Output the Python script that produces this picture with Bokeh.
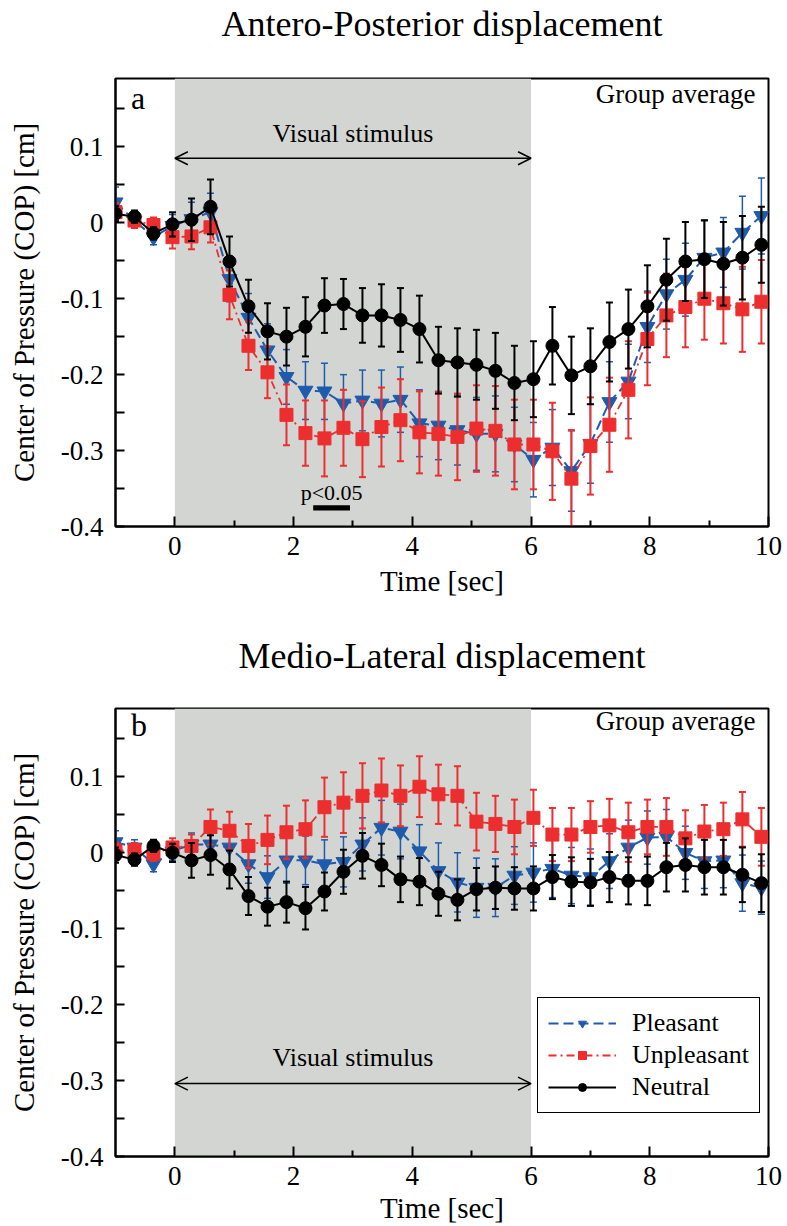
import numpy as np
from bokeh.plotting import figure
from bokeh.layouts import column
from bokeh.models import (Range1d, BoxAnnotation, Arrow, OpenHead, Label, Legend, LegendItem,
                          FixedTicker, CustomJSTickFormatter, LinearAxis)
from bokeh.embed import file_html
from bokeh.resources import INLINE

# ---------------- data ----------------
time_sec = [-1.0, -0.68, -0.36, -0.04, 0.28, 0.6, 0.92, 1.24, 1.56, 1.88, 2.2, 2.52, 2.84,
            3.16, 3.48, 3.8, 4.12, 4.44, 4.76, 5.08, 5.4, 5.72, 6.04, 6.36, 6.68, 7.0, 7.32,
            7.64, 7.96, 8.28, 8.6, 8.92, 9.24, 9.56, 9.88]

# Antero-Posterior
ap_pleasant = [0.027, 0.003, -0.019, -0.004, 0.005, 0.014, -0.074, -0.125, -0.168, -0.203, -0.221,
               -0.222, -0.238, -0.234, -0.238, -0.233, -0.264, -0.267, -0.273, -0.278, -0.278,
               -0.292, -0.312, -0.296, -0.327, -0.291, -0.236, -0.209, -0.137, -0.094, -0.075,
               -0.046, -0.039, -0.013, 0.009]
ap_pleasant_err = [0.020, 0.010, 0.010, 0.015, 0.022, 0.025, 0.030, 0.032, 0.035, 0.036, 0.038,
                   0.037, 0.038, 0.040, 0.044, 0.043, 0.044, 0.045, 0.046, 0.048, 0.050, 0.049,
                   0.049, 0.050, 0.053, 0.052, 0.053, 0.049, 0.047, 0.046, 0.048, 0.050, 0.046,
                   0.048, 0.050]
ap_unpleasant = [0.014, 0.003, -0.003, -0.019, -0.018, -0.006, -0.095, -0.162, -0.197, -0.253,
                 -0.277, -0.284, -0.270, -0.285, -0.269, -0.260, -0.276, -0.278, -0.282, -0.271,
                 -0.274, -0.292, -0.292, -0.301, -0.337, -0.294, -0.266, -0.220, -0.153, -0.122,
                 -0.111, -0.100, -0.106, -0.114, -0.104]
ap_unpleasant_err = [0.012, 0.010, 0.010, 0.015, 0.017, 0.020, 0.032, 0.032, 0.034, 0.040, 0.043,
                     0.050, 0.050, 0.050, 0.052, 0.054, 0.054, 0.055, 0.057, 0.057, 0.059, 0.059,
                     0.059, 0.064, 0.064, 0.064, 0.062, 0.064, 0.061, 0.055, 0.053, 0.054, 0.053,
                     0.056, 0.055]
ap_neutral = [0.012, 0.008, -0.014, -0.002, 0.004, 0.021, -0.051, -0.110, -0.143, -0.150, -0.137,
              -0.109, -0.107, -0.122, -0.122, -0.128, -0.140, -0.181, -0.184, -0.187, -0.195,
              -0.211, -0.206, -0.162, -0.201, -0.189, -0.157, -0.140, -0.110, -0.075, -0.051,
              -0.048, -0.054, -0.046, -0.029]
ap_neutral_err = [0.010, 0.008, 0.008, 0.016, 0.028, 0.036, 0.033, 0.035, 0.037, 0.038, 0.039,
                  0.036, 0.033, 0.036, 0.041, 0.042, 0.044, 0.044, 0.045, 0.046, 0.050, 0.049,
                  0.050, 0.051, 0.051, 0.050, 0.052, 0.052, 0.054, 0.054, 0.052, 0.051, 0.055,
                  0.055, 0.050]

# Medio-Lateral
ml_pleasant = [0.014, 0.007, -0.015, 0.002, 0.011, 0.011, 0.007, -0.015, -0.032, -0.010, -0.010,
               -0.015, -0.012, 0.011, 0.033, 0.028, 0.002, -0.024, -0.039, -0.046, -0.046, -0.030,
               -0.026, -0.021, -0.030, -0.032, -0.011, 0.007, 0.020, 0.021, 0.000, -0.011, -0.010,
               -0.040, -0.046]
ml_pleasant_err = [0.015, 0.010, 0.010, 0.012, 0.015, 0.020, 0.022, 0.025, 0.028, 0.030, 0.032,
                   0.032, 0.033, 0.035, 0.036, 0.036, 0.035, 0.037, 0.039, 0.039, 0.038, 0.038,
                   0.039, 0.038, 0.037, 0.037, 0.036, 0.036, 0.035, 0.036, 0.035, 0.036, 0.036,
                   0.037, 0.035]
ml_unpleasant = [0.003, 0.003, -0.001, 0.007, 0.009, 0.034, 0.029, 0.009, 0.017, 0.027, 0.031,
                 0.060, 0.066, 0.075, 0.082, 0.075, 0.087, 0.077, 0.075, 0.041, 0.038, 0.034,
                 0.046, 0.024, 0.024, 0.034, 0.036, 0.027, 0.034, 0.034, 0.019, 0.028, 0.031,
                 0.044, 0.021]
ml_unpleasant_err = [0.010, 0.010, 0.010, 0.012, 0.015, 0.023, 0.025, 0.029, 0.032, 0.035, 0.038,
                     0.039, 0.040, 0.043, 0.042, 0.040, 0.040, 0.039, 0.039, 0.038, 0.037, 0.036,
                     0.037, 0.035, 0.035, 0.034, 0.035, 0.039, 0.036, 0.038, 0.037, 0.035, 0.035,
                     0.036, 0.038]
ml_neutral = [-0.003, -0.009, 0.009, 0.000, -0.010, -0.003, -0.022, -0.057, -0.071, -0.065, -0.073,
              -0.051, -0.025, -0.004, -0.016, -0.035, -0.038, -0.054, -0.062, -0.048, -0.046,
              -0.047, -0.047, -0.032, -0.038, -0.039, -0.032, -0.037, -0.037, -0.019, -0.016,
              -0.019, -0.019, -0.029, -0.040]
ml_neutral_err = [0.010, 0.008, 0.008, 0.012, 0.023, 0.026, 0.025, 0.025, 0.025, 0.027, 0.028,
                  0.025, 0.029, 0.030, 0.028, 0.030, 0.031, 0.029, 0.027, 0.028, 0.028, 0.028,
                  0.029, 0.029, 0.032, 0.031, 0.033, 0.031, 0.032, 0.032, 0.035, 0.036, 0.036,
                  0.036, 0.038]

series_names = ["Pleasant", "Unpleasant", "Neutral"]
stimulus_window = [0, 6]
significance_window = [2.33, 2.95]
x_major_ticks = [0, 2, 4, 6, 8, 10]
x_minor_ticks = [1, 3, 5, 7, 9]
y_major_ticks = [-0.4, -0.3, -0.2, -0.1, 0, 0.1]
y_minor_ticks = [-0.35, -0.25, -0.15, -0.05, 0.05, 0.15]

# ---------------- styles ----------------
FONT = "Liberation Serif"
BLUE = "#1f5bab"
RED = "#ec2e2e"
BLACK = "#000000"
SHADE = "#d3d5d2"

STYLES = {
    "Pleasant": dict(color=BLUE, marker="inverted_triangle", size=15, dash="10 5", lw=2.0, elw=1.5),
    "Unpleasant": dict(color=RED, marker="square", size=13, dash="8 4 2 4", lw=1.8, elw=2.0),
    "Neutral": dict(color=BLACK, marker="circle", size=13, dash="solid", lw=2.0, elw=2.0),
}


def add_series(p, name, y, err):
    st = STYLES[name]
    t = np.array(time_sec)
    y = np.array(y)
    e = np.array(err)
    lo = y - e
    hi = y + e
    p.segment(t, lo, t, hi, line_color=st["color"], line_width=st["elw"])
    p.scatter(t, hi, marker="dash", size=7, line_color=st["color"], line_width=st["elw"])
    p.scatter(t, lo, marker="dash", size=7, line_color=st["color"], line_width=st["elw"])
    lr = p.line(t, y, line_color=st["color"], line_width=st["lw"], line_dash=st["dash"])
    mr = p.scatter(t, y, marker=st["marker"], size=st["size"], fill_color=st["color"],
                   line_color=st["color"], line_width=1)
    return lr, mr


def make_panel(title, title_standoff, height, top_border, bottom_border, data, letter, letter_y,
               group_y, arrow_y, stim_y, xlab_standoff, xaxis_label_standoff):
    p = figure(width=787, height=height, x_range=Range1d(-1, 10), y_range=Range1d(-0.4, 0.19),
               output_backend="svg", toolbar_location=None,
               min_border_left=115, min_border_right=19,
               min_border_top=top_border, min_border_bottom=bottom_border)
    p.grid.visible = False
    p.outline_line_color = "black"
    p.outline_line_width = 2
    p.outline_line_alpha = 1
    p.background_fill_color = "white"
    p.border_fill_color = "white"

    xax = p.below[0]
    yax = p.left[0]

    # panel title, drawn as the label of a bare axis above the frame
    title_axis = LinearAxis(ticker=FixedTicker(ticks=[], minor_ticks=[]), axis_line_color=None,
                            major_tick_line_color=None, minor_tick_line_color=None,
                            major_tick_out=0, minor_tick_out=0, major_tick_in=0, minor_tick_in=0,
                            major_label_standoff=0, major_label_text_font_size="0px",
                            axis_label=title,
                            axis_label_text_font=FONT, axis_label_text_font_size="36px",
                            axis_label_text_font_style="normal", axis_label_text_color="black",
                            axis_label_standoff=title_standoff)
    p.add_layout(title_axis, "above")

    p.add_layout(BoxAnnotation(left=stimulus_window[0], right=stimulus_window[1],
                               fill_color=SHADE, fill_alpha=1, line_color=None, level="underlay"))

    # axes
    xax.ticker = FixedTicker(ticks=x_major_ticks, minor_ticks=x_minor_ticks)
    yax.ticker = FixedTicker(ticks=y_major_ticks, minor_ticks=y_minor_ticks)
    yax.formatter = CustomJSTickFormatter(code="return Math.abs(tick) < 1e-9 ? '0' : tick.toFixed(1);")
    for ax in (xax, yax):
        ax.axis_line_width = 2
        ax.axis_line_color = "black"
        ax.major_tick_line_width = 2
        ax.minor_tick_line_width = 2
        ax.major_tick_line_color = "black"
        ax.minor_tick_line_color = "black"
        ax.major_tick_out = 0
        ax.minor_tick_out = 0
        ax.major_label_text_font = FONT
        ax.major_label_text_font_size = "27px"
        ax.axis_label_text_font = FONT
        ax.axis_label_text_font_size = "29px"
        ax.axis_label_text_font_style = "normal"
        ax.major_label_text_color = "black"
        ax.axis_label_text_color = "black"
    xax.major_tick_in = 10
    xax.minor_tick_in = 6
    yax.major_tick_in = 9
    yax.minor_tick_in = 9
    xax.major_label_standoff = xlab_standoff
    xax.axis_label_standoff = xaxis_label_standoff
    yax.major_label_standoff = 12
    yax.axis_label_standoff = 18
    xax.axis_label = "Time [sec]"
    yax.axis_label = "Center of Pressure (COP) [cm]"

    renderers = {}
    for name in series_names:
        y, err = data[name]
        renderers[name] = add_series(p, name, y, err)

    # annotations
    p.add_layout(Label(x=-0.74, y=letter_y, text=letter, text_font=FONT, text_font_size="32px",
                       text_color="black", text_baseline="middle", text_align="left"))
    p.add_layout(Label(x=9.78, y=group_y, text="Group average", text_font=FONT,
                       text_font_size="27px", text_color="black", text_baseline="middle",
                       text_align="right"))
    p.add_layout(Arrow(x_start=stimulus_window[0], y_start=arrow_y, x_end=stimulus_window[1],
                       y_end=arrow_y, line_width=1.5, line_color="black",
                       start=OpenHead(size=13, line_width=1.5, line_color="black"),
                       end=OpenHead(size=13, line_width=1.5, line_color="black")))
    p.add_layout(Label(x=sum(stimulus_window) / 2, y=stim_y, text="Visual stimulus", text_font=FONT,
                       text_font_size="26px", text_color="black", text_baseline="middle",
                       text_align="center"))
    return p, renderers


pa, ra = make_panel("Antero-Posterior displacement", 35, 628, 78, 102,
                    {"Pleasant": (ap_pleasant, ap_pleasant_err),
                     "Unpleasant": (ap_unpleasant, ap_unpleasant_err),
                     "Neutral": (ap_neutral, ap_neutral_err)},
                    "a", 0.164, 0.169, 0.085, 0.118, 10, 7)
pa.add_layout(BoxAnnotation(left=significance_window[0], right=significance_window[1],
                            bottom=-0.379, top=-0.372, fill_color="black", fill_alpha=1,
                            line_color=None))
pa.add_layout(Label(x=sum(significance_window) / 2, y=-0.355, text="p<0.05", text_font=FONT,
                    text_font_size="22px", text_color="black", text_baseline="middle",
                    text_align="center"))

pb, rb = make_panel("Medio-Lateral displacement", 33, 598, 80, 70,
                    {"Pleasant": (ml_pleasant, ml_pleasant_err),
                     "Unpleasant": (ml_unpleasant, ml_unpleasant_err),
                     "Neutral": (ml_neutral, ml_neutral_err)},
                    "b", 0.168, 0.174, -0.304, -0.270, 10, 4)

legend = Legend(items=[LegendItem(label=n, renderers=list(rb[n])) for n in series_names],
                location=(422, 43), glyph_width=68, glyph_height=20, label_standoff=16,
                padding=10, spacing=2, label_height=26, margin=0,
                label_text_font=FONT, label_text_font_size="26px", label_text_color="black",
                border_line_color="black", border_line_width=1.5, border_line_alpha=1,
                background_fill_color="white", background_fill_alpha=1)
pb.add_layout(legend)

layout = column(pa, pb, spacing=0)
open("out.html", "w").write(file_html(layout, INLINE))
